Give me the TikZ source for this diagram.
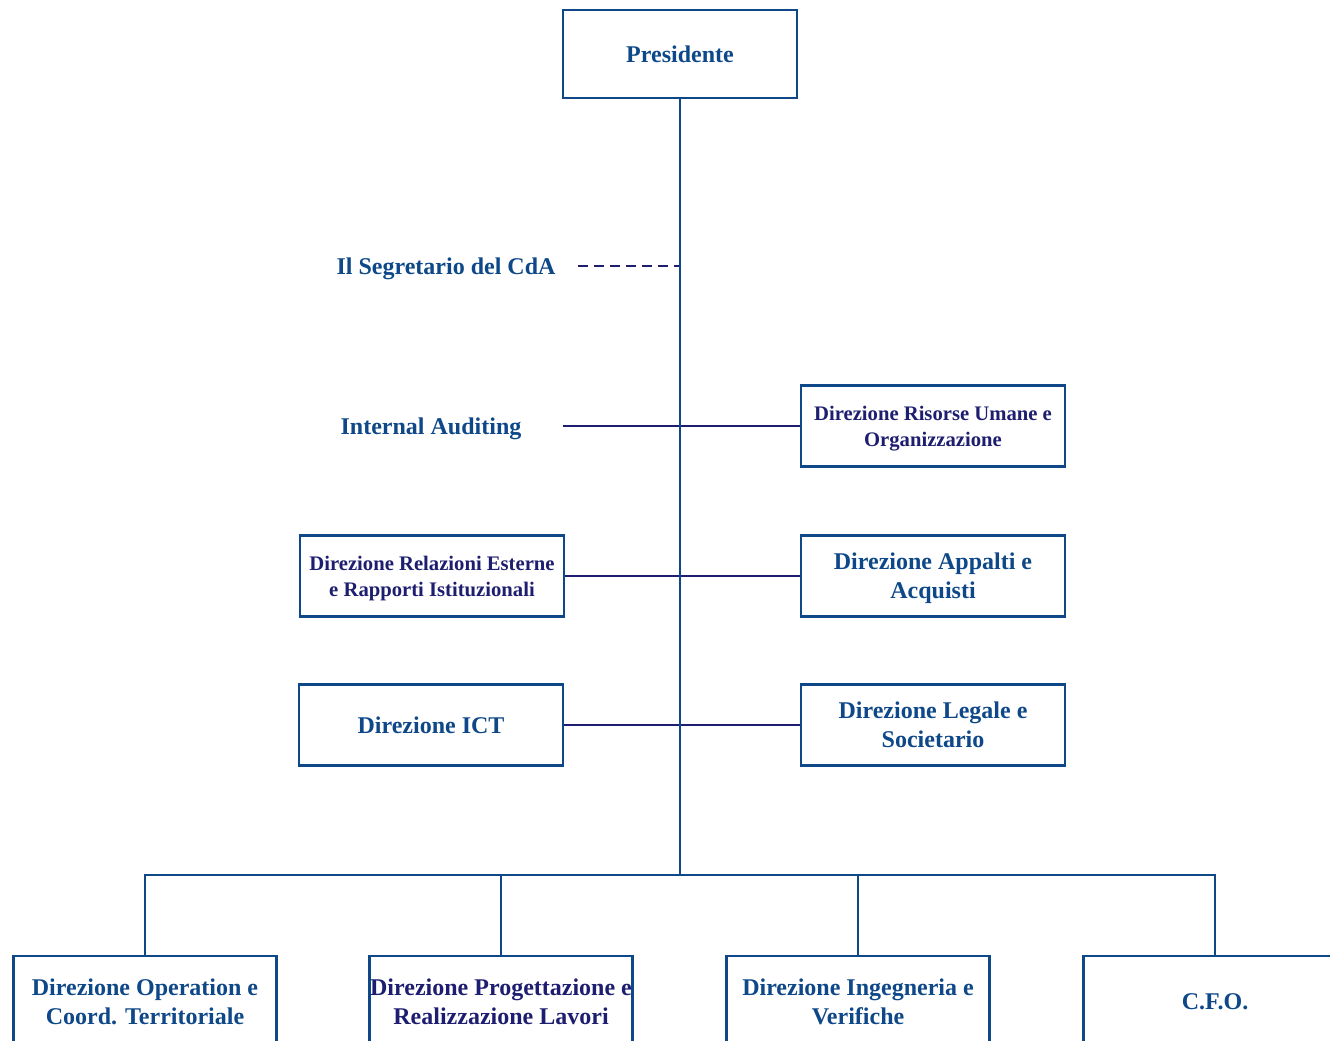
\documentclass[tikz,border=0pt]{standalone}
\usepackage{fontspec}
\setmainfont{Liberation Serif}
\usetikzlibrary{positioning}
\definecolor{orgblue}{RGB}{14,72,136}
\definecolor{orgnavy}{RGB}{30,30,112}
\tikzset{
  bigtext/.style={font=\bfseries\fontsize{18}{21.75}\selectfont,text=orgblue,align=center,text depth=0pt},
  smalltext/.style={font=\bfseries\fontsize{15.5}{19.5}\selectfont,text=orgnavy,align=center,text depth=0pt},
  unit/.style={draw=orgblue,line width=2.2pt,minimum width=198pt,minimum height=60.75pt,inner sep=0pt},
  lowunit/.style={unit,minimum width=197pt,minimum height=69pt},
  branch/.style={draw=orgblue,line width=2.2pt},
  sideline/.style={draw=orgnavy,line width=1.6pt}
}
\begin{document}
\begin{tikzpicture}[x=0.75pt,y=-0.75pt]
\clip (0,0) rectangle (1330,1041);
\useasboundingbox (0,0) rectangle (1330,1041);
\node[unit,bigtext,minimum width=175.5pt,minimum height=66pt] (pres) at (680,54) {Presidente};
\node[bigtext,minimum width=198pt,inner sep=0pt] (segr) at (446,266) {Il Segretario del CdA};
\node[bigtext,minimum width=198pt,inner sep=0pt] (audit) at (431,426) {Internal Auditing};
\node[unit,smalltext] (hr) at (933,426) {Direzione Risorse Umane e\\Organizzazione};
\node[unit,smalltext] (rel) at (432,576) {Direzione Relazioni Esterne\\e Rapporti Istituzionali};
\node[unit,bigtext] (app) at (933,576) {Direzione Appalti e\\Acquisti};
\node[unit,bigtext] (ict) at (431,725) {Direzione ICT};
\node[unit,bigtext] (leg) at (933,725) {Direzione Legale e\\Societario};
\coordinate (bus) at (680,875);
\node[lowunit,bigtext] (op) at (145,1002) {Direzione Operation e\\Coord. Territoriale};
\node[lowunit,bigtext,text=orgnavy] (prog) at (501,1002) {Direzione Progettazione e\\Realizzazione Lavori};
\node[lowunit,bigtext] (ing) at (858,1002) {Direzione Ingegneria e\\Verifiche};
\node[lowunit,bigtext] (cfo) at (1215,1002) {C.F.O.};

\draw[sideline,dashed,dash pattern=on 7pt off 5pt] (segr.east) -- (segr.east -| pres.south);
\draw[sideline] (audit.east) -- (hr.west);
\draw[sideline] (rel.east) -- (app.west);
\draw[sideline] (ict.east) -- (leg.west);
\draw[branch] (pres.south) -- (bus);
\draw[branch] (op.north) |- (bus) -| (cfo.north);
\draw[branch] (prog.north) -- (prog.north |- bus);
\draw[branch] (ing.north) -- (ing.north |- bus);
\end{tikzpicture}
\end{document}
